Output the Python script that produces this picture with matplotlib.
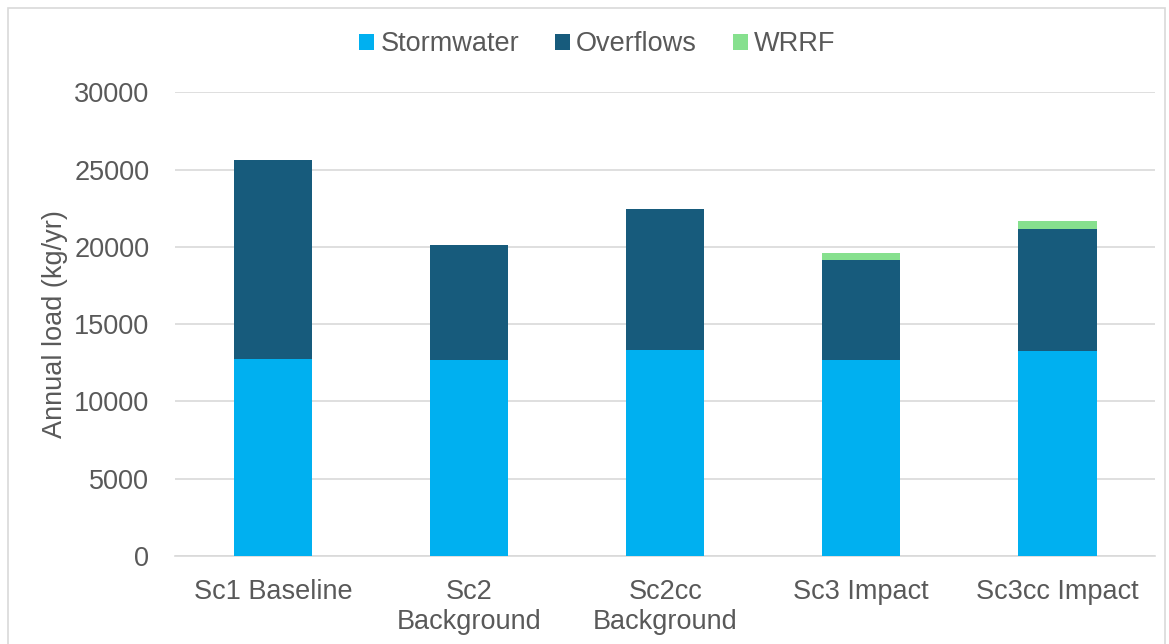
import matplotlib
matplotlib.use("Agg")
import matplotlib.pyplot as plt
from matplotlib.patches import Rectangle
import numpy as np

plt.rcParams['font.family'] = ['Liberation Sans', 'DejaVu Sans']

categories = ["Sc1 Baseline", "Sc2\nBackground", "Sc2cc\nBackground", "Sc3 Impact", "Sc3cc Impact"]
stormwater = [12780, 12670, 13300, 12670, 13270]
overflows = [12820, 7430, 9180, 6460, 7860]
wrrf = [0, 0, 0, 470, 520]

c_storm = "#00B0F0"
c_over = "#175B7C"
c_wrrf = "#86E08E"
text_c = "#595959"
fs = 19.5

fig = plt.figure(figsize=(11.69, 6.44), dpi=100)
ax = fig.add_axes([0.1497, 0.1366, 0.8386, 0.72])

x = np.arange(len(categories))
w = 0.4
b1 = ax.bar(x, stormwater, w, color=c_storm, label="Stormwater", zorder=3)
b2 = ax.bar(x, overflows, w, bottom=stormwater, color=c_over, label="Overflows", zorder=3)
bottom3 = np.array(stormwater) + np.array(overflows)
b3 = ax.bar(x, wrrf, w, bottom=bottom3, color=c_wrrf, label="WRRF", zorder=3)

ax.set_xlim(-0.5, len(categories) - 0.5)
ax.set_ylim(0, 30000)
ax.set_yticks(np.arange(0, 30001, 5000))
ax.yaxis.grid(True, color="#D9D9D9", linewidth=1.2, zorder=0)
ax.set_axisbelow(True)
for s in ["top", "right", "left"]:
    ax.spines[s].set_visible(False)
ax.spines["bottom"].set_color("#D9D9D9")
ax.spines["bottom"].set_linewidth(1.2)
ax.tick_params(axis="both", length=0, labelsize=fs, colors=text_c)
ax.tick_params(axis="x", pad=16.5)
ax.tick_params(axis="y", pad=18.5)
ax.set_xticks(x)
ax.set_xticklabels(categories, linespacing=1.2)
ax.set_ylabel("Annual load (kg/yr)", fontsize=fs, color=text_c, labelpad=4)

leg = fig.legend(handles=[b1, b2, b3], loc="center", bbox_to_anchor=(0.511, 0.931),
                 ncol=3, frameon=False, fontsize=fs, handlelength=0.55, handleheight=0.55,
                 handletextpad=0.22, columnspacing=1.33)
for t in leg.get_texts():
    t.set_color(text_c)

fig.patches.append(Rectangle((0.007, -0.01), 0.99, 0.997, transform=fig.transFigure,
                             fill=False, edgecolor="#D9D9D9", linewidth=1.2))

fig.savefig("out.png", dpi=100, facecolor="white")
